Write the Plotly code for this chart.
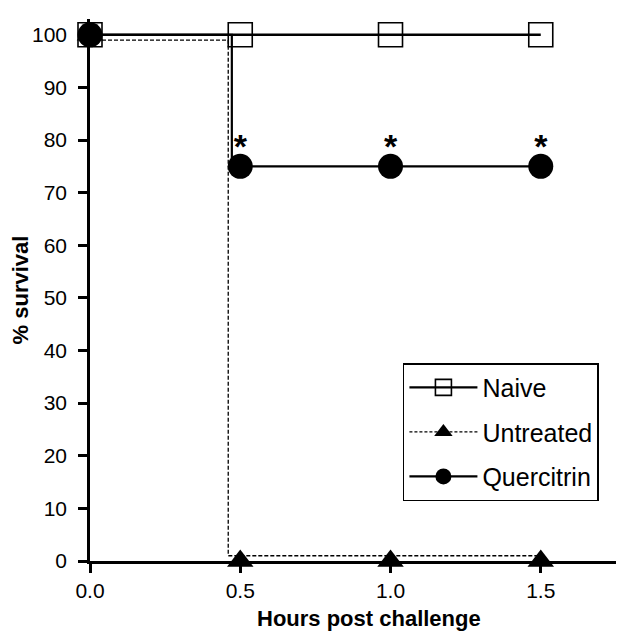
import plotly.graph_objects as go

# ---- data ----
times = [0.0, 0.5, 1.0, 1.5]
naive_survival = [100, 100, 100, 100]
untreated_survival = [100, 0, 0, 0]
quercitrin_survival = [100, 75, 75, 75]
# time (h) at which the Kaplan-Meier step drops
untreated_drop = 0.46
quercitrin_drop = 0.472
# small visual offset the original used so the dashed curve is not hidden
untreated_offset = 1.0
significant = ["*", "*", "*"]   # quercitrin at 0.5, 1.0, 1.5 h

x_ticks = [0.0, 0.5, 1.0, 1.5]
x_tick_labels = ["0.0", "0.5", "1.0", "1.5"]
y_ticks = list(range(0, 101, 10))

FONT = "Liberation Sans, Arial, Helvetica, sans-serif"


def step_path(t, s, drop, offset=0.0):
    """Kaplan-Meier style path: level before the drop, level after it."""
    start = s[0] - offset
    end = s[-1] + offset if s[-1] < s[0] else s[-1]
    return [t[0], drop, drop, t[-1]], [start, start, end, end]


fig = go.Figure()

# Untreated: dashed step + triangles
ux, uy = step_path(times, untreated_survival, untreated_drop, untreated_offset)
fig.add_trace(go.Scatter(x=ux, y=uy, mode="lines", showlegend=False,
                         line=dict(color="black", width=1.3, dash="4px,2px"),
                         hoverinfo="skip", cliponaxis=False))
fig.add_trace(go.Scatter(x=times, y=untreated_survival, mode="markers",
                         marker=dict(symbol="triangle-up", size=23, color="black"),
                         cliponaxis=False, showlegend=False))

# Quercitrin: solid step + filled circles
qx, qy = step_path(times, quercitrin_survival, quercitrin_drop)
fig.add_trace(go.Scatter(x=qx, y=qy, mode="lines", showlegend=False,
                         line=dict(color="black", width=2.2),
                         hoverinfo="skip", cliponaxis=False))
fig.add_trace(go.Scatter(x=times, y=quercitrin_survival, mode="markers",
                         marker=dict(symbol="circle", size=25, color="black"),
                         cliponaxis=False, showlegend=False))

# Naive: solid line + open squares
fig.add_trace(go.Scatter(x=times, y=naive_survival, mode="lines", showlegend=False,
                         line=dict(color="black", width=2.6),
                         hoverinfo="skip", cliponaxis=False))
fig.add_trace(go.Scatter(x=times, y=naive_survival, mode="markers",
                         marker=dict(symbol="square-open", size=24, color="black",
                                     line=dict(width=1.6)),
                         cliponaxis=False, showlegend=False))

# significance asterisks
fig.add_trace(go.Scatter(x=times[1:], y=quercitrin_survival[1:], mode="text",
                         text=["<b>%s</b>" % s for s in significant],
                         textposition="top center",
                         textfont=dict(family=FONT, size=34, color="black"),
                         showlegend=False, hoverinfo="skip", cliponaxis=False))

# legend entries
fig.add_trace(go.Scatter(x=[None], y=[None], mode="lines+markers", name="Naive",
                         legendgroup="a",
                         marker=dict(symbol="square-open", size=24, color="black",
                                     line=dict(width=1.6)),
                         line=dict(color="black", width=2.2)))
fig.add_trace(go.Scatter(x=[None], y=[None], mode="lines+markers", name="Untreated",
                         legendgroup="b",
                         marker=dict(symbol="triangle-up", size=22, color="black"),
                         line=dict(color="black", width=1.2, dash="3px,2px")))
fig.add_trace(go.Scatter(x=[None], y=[None], mode="lines+markers", name="Quercitrin",
                         legendgroup="c",
                         marker=dict(symbol="circle", size=24, color="black"),
                         line=dict(color="black", width=2.2)))

fig.update_layout(
    width=624, height=634,
    margin=dict(l=82, r=8, t=11, b=81),
    paper_bgcolor="white", plot_bgcolor="white",
    font=dict(family=FONT, color="black", size=22),
    legend=dict(x=0.586, y=0.365, xanchor="left", yanchor="top",
                bordercolor="black", borderwidth=1.5, bgcolor="white",
                font=dict(family=FONT, size=25, color="black"),
                itemwidth=68, tracegroupgap=9, traceorder="grouped"),
    xaxis=dict(range=[0, 1.777], tickvals=x_ticks, ticktext=x_tick_labels,
               showgrid=False, zeroline=False, showline=True, linecolor="black",
               linewidth=2.5, ticks="outside", ticklen=9, tickwidth=2.5,
               tickcolor="black", tickfont=dict(size=21)),
    yaxis=dict(range=[0, 103], tickvals=y_ticks, showgrid=False, zeroline=False,
               showline=True, linecolor="black", linewidth=2.5, ticks="outside",
               ticklen=9, tickwidth=2.5, tickcolor="black", tickfont=dict(size=21),
               ticklabelstandoff=7,
               title=dict(text="<b>% survival</b>", font=dict(size=22),
                          standoff=2)),
    annotations=[dict(text="<b>Hours post challenge</b>", xref="paper", yref="paper",
                      x=0.5225, y=0, xanchor="center", yanchor="top", yshift=-43,
                      showarrow=False, font=dict(family=FONT, size=22, color="black"))],
)

fig.write_html("out.html")
